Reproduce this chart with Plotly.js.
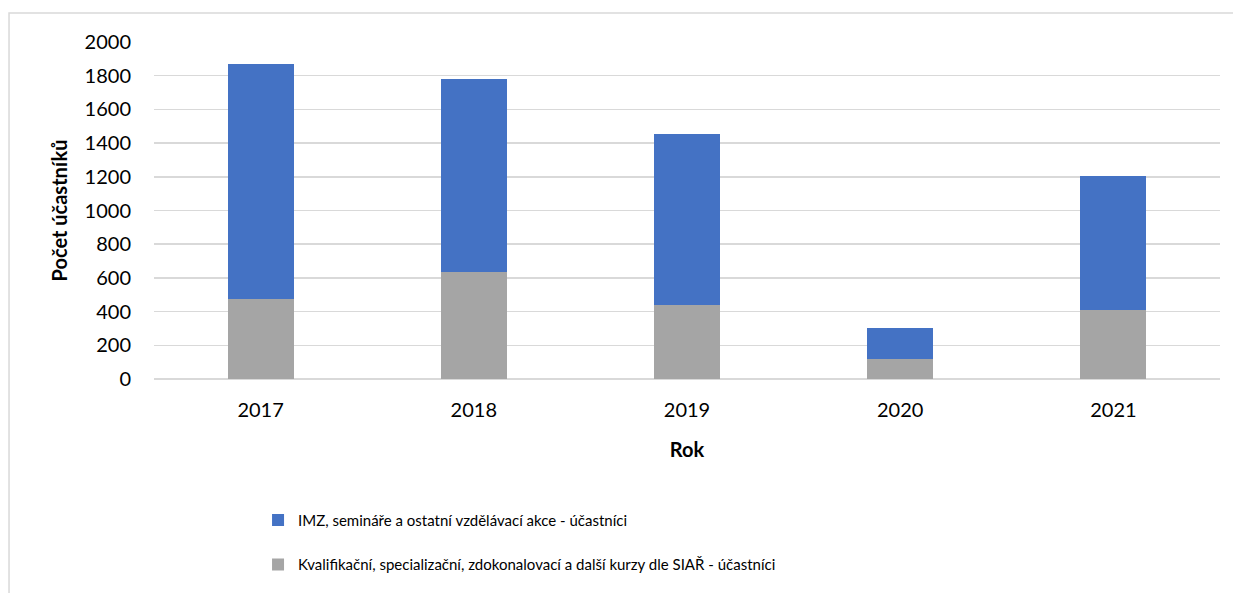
<!DOCTYPE html>
<html>
<head>
<meta charset="utf-8">
<script src="https://cdn.plot.ly/plotly-3.0.1.min.js"></script>
<style>html,body{margin:0;padding:0;background:#fff;}#chart{width:1233px;height:593px;}</style>
</head>
<body>
<div id="chart"></div>
<script>
const years = ['2017', '2018', '2019', '2020', '2021'];
const kurzy = [475, 633, 437, 117, 410];
const imz = [1394, 1145, 1017, 188, 795];
const seriesNames = [
  'IMZ, semináře a ostatní vzdělávací akce - účastníci',
  'Kvalifikační, specializační, zdokonalovací a další kurzy dle SIAŘ - účastníci'
];
const yTicks = [0, 200, 400, 600, 800, 1000, 1200, 1400, 1600, 1800, 2000];

const baseFont = 'Lato, "Open Sans", sans-serif';
const legendFont = 'Lato, "Open Sans", sans-serif';

const traces = [
  {
    type: 'bar', x: years, y: kurzy, name: seriesNames[1],
    marker: {color: '#A5A5A5'}, legendgroup: 'b', legendrank: 2, hoverinfo: 'x+y'
  },
  {
    type: 'bar', x: years, y: imz, name: seriesNames[0],
    marker: {color: '#4472C4'}, legendgroup: 'a', legendrank: 1, hoverinfo: 'x+y'
  }
];

const layout = {
  width: 1233, height: 593,
  margin: {l: 154, r: 13, t: 42, b: 214},
  paper_bgcolor: '#ffffff', plot_bgcolor: '#ffffff',
  barmode: 'stack', bargap: 0.69,
  font: {family: baseFont, color: '#000000', size: 20},
  xaxis: {
    type: 'category',
    showgrid: false, zeroline: false, showline: false,
    ticks: '', ticklabelstandoff: 17,
    tickfont: {family: baseFont, size: 20, color: '#000'},
    title: {text: '<b>Rok</b>', font: {family: baseFont, size: 20, color: '#000'}, standoff: 22}
  },
  yaxis: {
    range: [0, 2000], tickvals: yTicks, ticktext: yTicks.map(String),
    showgrid: true, gridcolor: '#d9d9d9', gridwidth: 1.5,
    zeroline: true, zerolinecolor: '#d9d9d9', zerolinewidth: 1.5,
    showline: false, ticks: '', ticklabelstandoff: 22,
    tickfont: {family: baseFont, size: 20, color: '#000'},
    title: {text: '<b>Počet účastníků</b>', font: {family: baseFont, size: 20, color: '#000'}, standoff: 11}
  },
  showlegend: true,
  legend: {
    orientation: 'v', x: 0.0976, xanchor: 'left', y: -0.37, yanchor: 'top',
    traceorder: 'grouped', tracegroupgap: 22,
    font: {family: legendFont, size: 15, color: '#000'},
    bgcolor: 'rgba(0,0,0,0)'
  },
  shapes: [{
    type: 'rect', xref: 'paper', yref: 'paper',
    x0: -0.136, x1: 1.3, y0: -1, y1: 1.086,
    line: {color: '#d9d9d9', width: 1.5}, fillcolor: 'rgba(0,0,0,0)', layer: 'below'
  }]
};

Plotly.newPlot('chart', traces, layout, {displayModeBar: false, staticPlot: true});
</script>
</body>
</html>
